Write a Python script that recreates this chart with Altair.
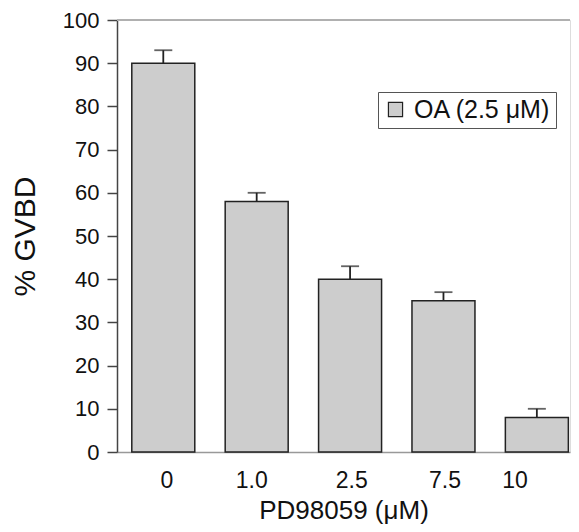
import altair as alt
import pandas as pd

categories = ["0", "1.0", "2.5", "7.5", "10"]
gvbd = [90, 58, 40, 35, 8]
err = [3, 2, 3, 2, 2]
series = ["OA (2.5 μM)"] * 5

df = pd.DataFrame({"dose": categories, "gvbd": gvbd, "err": err, "series": series})
df["top"] = df["gvbd"] + df["err"]

FONT = "Liberation Sans"

label_offsets = {"0": 3.5, "1.0": -5, "2.5": 1.7, "7.5": 1.6, "10": -21.8}
offset_cond = {
    "condition": [{"test": f"datum.label == '{k}'", "value": v} for k, v in label_offsets.items()],
    "value": 0,
}

xscale = alt.Scale(domain=categories, paddingInner=0.3255, paddingOuter=0.088, align=0.9)
yscale = alt.Scale(domain=[0, 100], nice=False)

x = alt.X("dose:N", scale=xscale, sort=categories,
          axis=alt.Axis(title="PD98059 (μM)", labelAngle=0, ticks=False, labelPadding=17,
                        labelFontSize=23, titleFontSize=26, titleBaseline="alphabetic",
                        titleY=66,
                        labelFont=FONT, titleFont=FONT, labelColor="#111", titleColor="#111",
                        domainColor="#999", domainWidth=1.5, labelOffset=offset_cond,
                        titleFontWeight="normal"))
y = alt.Y("gvbd:Q", scale=yscale,
          axis=alt.Axis(title="% GVBD", values=list(range(0, 101, 10)), tickSize=10,
                        labelPadding=8, labelFontSize=22, titleFontSize=30,
                        titleX=-92, titleBaseline="middle",
                        labelFont=FONT, titleFont=FONT, labelColor="#111", titleColor="#111",
                        domainColor="#444", domainWidth=1.5, tickColor="#444", tickWidth=1.5,
                        grid=False, titleFontWeight="normal"))

bars = alt.Chart(df).mark_bar(stroke="#222", strokeWidth=1.5).encode(
    x=x, y=y,
    color=alt.Color("series:N", scale=alt.Scale(range=["#cdcdcd"]),
                    legend=alt.Legend(title=None, orient="none", legendX=261, legendY=72,
                                      symbolType="square", symbolSize=200,
                                      symbolStrokeColor="#222", symbolStrokeWidth=1.2,
                                      symbolFillColor="#cdcdcd",
                                      labelFontSize=25, labelFont=FONT, labelColor="#111",
                                      strokeColor="#555", fillColor="white", padding=5,
                                      labelOffset=6, labelLimit=300)),
)

rule = alt.Chart(df).mark_rule(color="#222", strokeWidth=1.8).encode(
    x=alt.X("dose:N", scale=xscale, sort=categories),
    y=alt.Y("gvbd:Q", scale=yscale),
    y2="top:Q",
)
cap = alt.Chart(df).mark_tick(color="#222", thickness=1.8, size=18).encode(
    x=alt.X("dose:N", scale=xscale, sort=categories),
    y=alt.Y("top:Q", scale=yscale),
)

topline = alt.Chart(df).mark_rule(color="#b0b0b0", strokeWidth=1.5).encode(
    y=alt.datum(100, scale=yscale),
)

chart = alt.layer(topline, bars, rule, cap).properties(
    width=453, height=432,
    autosize=alt.AutoSizeParams(type="none"),
    padding={"left": 109, "top": 12, "right": 1, "bottom": 72},
).configure_view(stroke=None).configure(background="white")

chart.save("out.html", embed_options={"renderer": "svg", "actions": False})
